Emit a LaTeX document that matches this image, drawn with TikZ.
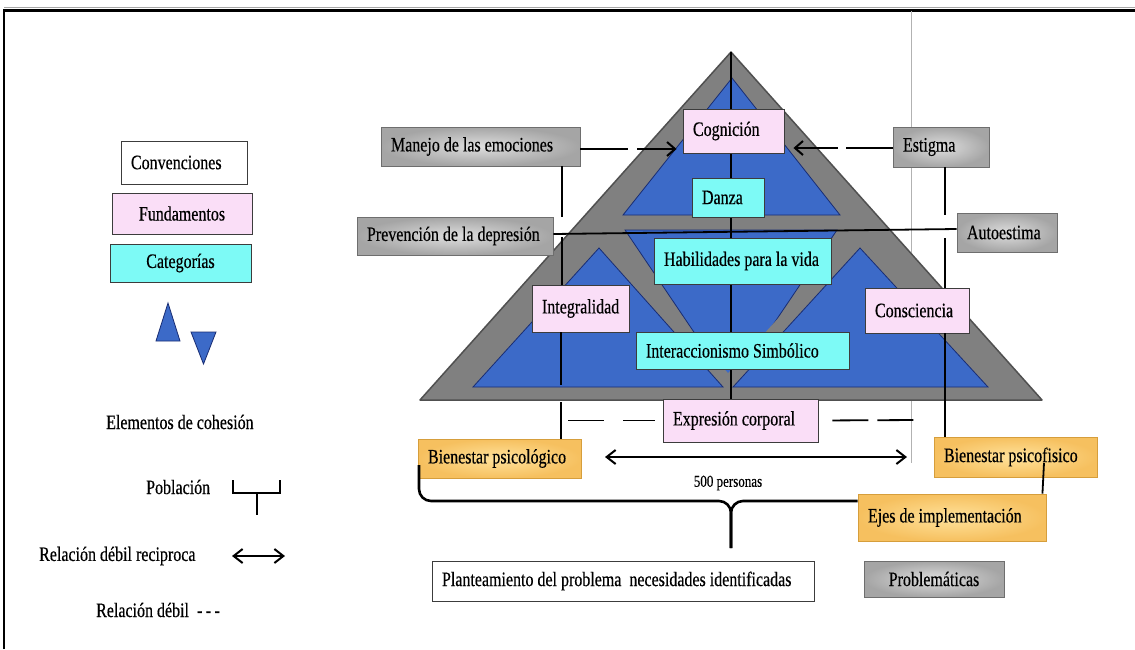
\documentclass[tikz,border=0pt]{standalone}
\usepackage{fontspec}
\setmainfont{Liberation Serif}[FakeStretch=0.78,FakeBold=0.4]
\usetikzlibrary{arrows.meta}
\definecolor{blueT}{RGB}{60,106,200}
\definecolor{navyT}{RGB}{25,45,115}
\definecolor{grayT}{RGB}{128,128,128}
\definecolor{grayEdge}{RGB}{80,80,80}
\definecolor{pinkF}{RGB}{250,222,247}
\definecolor{cyanF}{RGB}{125,250,246}
\definecolor{grayIn}{RGB}{222,222,222}
\definecolor{grayOut}{RGB}{165,165,165}
\definecolor{grayB}{RGB}{110,110,110}
\definecolor{orangeIn}{RGB}{255,226,155}
\definecolor{orangeOut}{RGB}{246,192,95}
\definecolor{orangeE}{RGB}{214,158,60}
\definecolor{boxE}{RGB}{60,60,60}
\newcommand{\mainsize}{\fontsize{20.5}{23}\selectfont}
\newcommand{\smallsize}{\fontsize{16.7}{19}\selectfont}
% name x1 y1 x2 y2 style align(l/c) text
\newcommand{\boxnode}[8]{%
  \pgfmathsetmacro{\myBW}{(#4)-(#2)-20}%
  \pgfmathsetmacro{\myBH}{(#5)-(#3)}%
  \pgfmathsetmacro{\myXC}{((#2)+(#4))/2}%
  \pgfmathsetmacro{\myYC}{((#3)+(#5))/2}%
  \node[#6, inner xsep=10pt, inner ysep=0pt, minimum height=\myBH pt] (#1) at (\myXC,\myYC) {\makebox[\myBW pt][#7]{#8}};}
\begin{document}
\begin{tikzpicture}[x=1pt,y=-1pt,
  bx/.style={draw=boxE, line width=0.9pt, font=\mainsize, text=black},
  whiteb/.style={bx, fill=white},
  pinkb/.style={bx, fill=pinkF},
  cyanb/.style={bx, fill=cyanF},
  grayb/.style={bx, inner color=grayIn, outer color=grayOut, draw=grayB},
  orangeb/.style={bx, inner color=orangeIn, outer color=orangeOut, draw=orangeE},
  link/.style={line width=1.8pt},
  arr/.style={line width=2pt, -{Straight Barb[length=8pt,width=14pt]}},
  darr/.style={line width=2pt, {Straight Barb[length=9pt,width=14pt]}-{Straight Barb[length=9pt,width=14pt]}},
  brace/.style={line width=2.6pt, rounded corners=12pt},
  lbl/.style={font=\mainsize, inner sep=0pt, anchor=west},
  tri/.style={fill=blueT, draw=navyT, line width=0.8pt},
  band/.style={draw=grayT, fill=grayT, line width=26pt, line join=round}]
\useasboundingbox (0,0) rectangle (1135,649);
\fill[white] (0,0) rectangle (1135,649);
% frame
\draw[gray!70, line width=0.8pt] (4,7.5) -- (1135,7.5);
\draw[line width=2.2pt] (4,649) -- (4,10.5) -- (1135,10.5);
\draw[gray!60, line width=1pt] (911,11) -- (911,463);
% pyramid
\begin{scope}
  \clip (731,52) -- (420,400) -- (1042,400) -- cycle;
  \fill[grayT] (731,52) -- (420,400) -- (1042,400) -- cycle;
  \filldraw[tri] (732,78) -- (623,215) -- (840,215) -- cycle;
  \filldraw[tri] (625,230) -- (837,230) -- (731,387) -- cycle;
  \draw[band] (599,248) -- (473,387) -- (723,387) -- cycle;
  \draw[band] (860,248) -- (733,387) -- (988,387) -- cycle;
  \filldraw[tri] (599,248) -- (473,387) -- (723,387) -- cycle;
  \filldraw[tri] (860,248) -- (733,387) -- (988,387) -- cycle;
\end{scope}
\draw[grayEdge, line width=1.5pt, line join=round] (731,52) -- (420,400) -- (1042,400) -- cycle;
% legend triangles
\filldraw[tri] (156,341) -- (180,341) -- (168,303) -- cycle;
\filldraw[tri] (191,332) -- (216,332) -- (203.5,364) -- cycle;
% boxes
\boxnode{conv}{121}{141}{247}{184}{whiteb}{l}{Convenciones}
\boxnode{fund}{112}{193}{252}{234}{pinkb}{c}{Fundamentos}
\boxnode{cat}{110}{244}{251}{282}{cyanb}{c}{Categorías}
\boxnode{manejo}{381}{127}{580}{166}{grayb}{l}{Manejo de las emociones}
\boxnode{prev}{357}{217}{553}{255}{grayb}{l}{Prevención de la depresión}
\boxnode{estigma}{893}{127}{989}{167}{grayb}{l}{Estigma}
\boxnode{auto}{957}{213}{1057}{252}{grayb}{l}{Autoestima}
\boxnode{bpsico}{418}{439}{581}{478}{orangeb}{l}{Bienestar psicológico}
\boxnode{bfis}{934}{437}{1097}{477}{orangeb}{l}{Bienestar psicofisico}
\boxnode{ejes}{858}{494}{1046}{541}{orangeb}{l}{Ejes de implementación}
\boxnode{plant}{432}{561}{814}{601}{whiteb}{l}{Planteamiento del problema\ \ necesidades identificadas}
\boxnode{probl}{864}{561}{1004}{597}{grayb}{c}{Problemáticas}
% coordinates
\coordinate (apex) at (731,52);
\coordinate (la) at (562,217);
\coordinate (lb) at (562,237);
\coordinate (lc) at (561,385);
\coordinate (ld) at (561,402);
\coordinate (ra) at (945,215);
\coordinate (rb) at (945,238);
\coordinate (pl) at (605,457);
\coordinate (pr) at (907,457);
\coordinate (b1) at (419,465);
\coordinate (bstem) at (731,548);
\coordinate (fe) at (1044,463);
\coordinate (x2) at (917,420);
% central line, then the boxes on it
\boxnode{expr}{663}{399}{818}{442}{pinkb}{l}{Expresión corporal}
\draw[link] (apex) -- (apex |- expr.north);
\boxnode{cog}{683}{109}{784}{153}{pinkb}{l}{Cognición}
\boxnode{danza}{692}{178}{764}{217}{cyanb}{l}{Danza}
\boxnode{hab}{654}{238}{831}{284}{cyanb}{l}{Habilidades para la vida}
\boxnode{integ}{532}{285}{629}{332}{pinkb}{l}{Integralidad}
\boxnode{consc}{865}{288}{969}{333}{pinkb}{l}{Consciencia}
\boxnode{inter}{636}{332}{849}{369}{cyanb}{l}{Interaccionismo Simbólico}
% left vertical connector
\draw[link] (manejo.south -| la) -- (la);
\draw[link] (lb) -- (lb |- integ.north);
\draw[link] (integ.south -| lc) -- (lc);
\draw[link] (ld) -- (ld |- bpsico.north);
% right vertical connector
\draw[link] (estigma.south -| ra) -- (ra);
\draw[link] (rb) -- (rb |- consc.north);
\draw[link] (consc.south -| rb) -- (rb |- bfis.north);
% horizontal connector
\draw[link] ([yshift=2pt]prev.east) -- ([yshift=3.5pt]auto.west);
% dashed arrows to Cognicion
\coordinate (m1) at ([yshift=-2.5pt]manejo.east);
\draw[arr, dash pattern=on 48pt off 9pt, shorten >=6pt] (m1) -- (m1 -| cog.west);
\coordinate (e1) at ([yshift=-1pt]estigma.west);
\draw[arr, dash pattern=on 47pt off 8pt, shorten >=9pt] (e1) -- (e1 -| cog.east);
% dashed lines at Expresion corporal
\coordinate (x1) at (expr.west -| lc);
\draw[link, dash pattern=on 36pt off 19pt, shorten <=7pt, shorten >=8pt] (x1) -- (expr.west);
\draw[link, dash pattern=on 36pt off 9pt, shorten <=14pt] (expr.east) -- (x2);
% population arrow
\draw[darr] (pl) -- (pr);
\node[font=\smallsize, inner sep=0pt] (pers) at (728,483) {500 personas};
% brace
\coordinate (ej1) at ([yshift=16.5pt]ejes.west);
\draw[brace] (b1) -- (419,501) -- (731,501) -- (bstem);
\draw[brace] (ej1) -- (731,501) -- (bstem);
\draw[link] ([xshift=-4pt]ejes.north east) -- (fe);
% legend texts
\node[lbl] (elem) at (106,422) {Elementos de cohesión};
\node[lbl] (pob) at (146,487) {Población};
\node[lbl] (rdr) at (39,556) {Relación débil reciproca};
\node[lbl] (rd) at (96,610) {Relación débil\ \ -\,-\,-};
\coordinate (bk1) at (233,480);
\coordinate (bk2) at (280,480);
\coordinate (bk3) at (257,515);
\draw[line width=1.8pt] (bk1) -- (233,493) -- (280,493) -- (bk2);
\draw[line width=1.8pt] (257,493) -- (bk3);
\coordinate (lg1) at (232,556);
\coordinate (lg2) at (285,556);
\draw[darr] (lg1) -- (lg2);
\end{tikzpicture}
\end{document}
